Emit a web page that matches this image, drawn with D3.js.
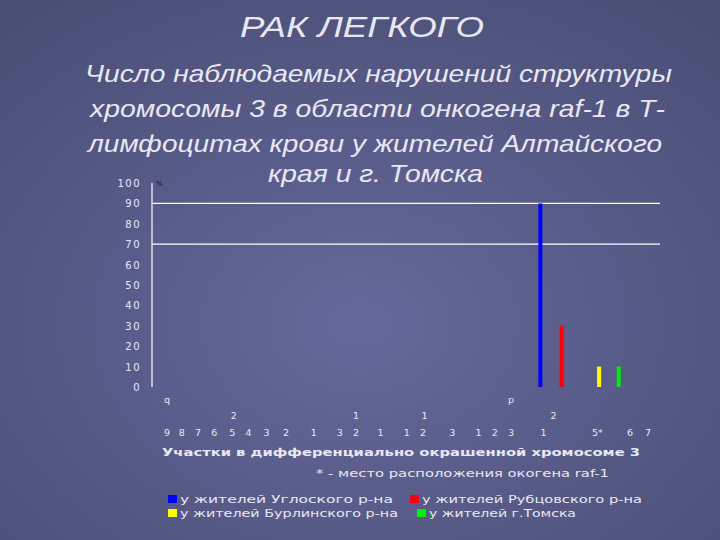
<!DOCTYPE html><html><head><meta charset="utf-8">
<script src="https://cdn.jsdelivr.net/npm/d3@7"></script>
<style>body{margin:0;background:#55597f}svg{display:block}</style></head><body>
<script>
const bottomLabels=["9","8","7","6","5","4","3","2","1","3","2","1","1","2","3","1","2","3","1","5*","6","7"];
const bottomPos=[0,0.9,1.9,2.9,4,5,6.1,7.3,9,10.6,11.6,13.1,14.7,15.7,17.5,19.1,20.1,21.1,23.1,26.4,28.4,29.5];
const midLabels=["2","1","1","2"];
const midPos=[4.1,11.6,15.8,23.7];
const armLabels=["q","p"];
const armPos=[0,21.1];
const series=["у жителей Углоcкого р-на","у жителей Рубцовского р-на","у жителей Бурлинского р-на","у жителей г.Томска"];
const values=[90,30,10,10];
const barPos=[22.9,24.2,26.5,27.7];
const colors=["#0000ff","#ff0000","#ffff00","#00ee00"];
const yTicks=[0,10,20,30,40,50,60,70,80,90,100];
const gridVals=[70,90];

const W=720,H=540;
const svg=d3.select("body").append("svg").attr("width",W).attr("height",H);
const defs=svg.append("defs");
const rg=defs.append("radialGradient").attr("id","bg").attr("cx","50%").attr("cy","60%").attr("r","75%");
rg.append("stop").attr("offset","0%").attr("stop-color","#66699a");
rg.append("stop").attr("offset","100%").attr("stop-color","#4a4d74");
svg.append("rect").attr("width",W).attr("height",H).attr("fill","url(#bg)");

const x=d3.scaleLinear().domain([0,29.5]).range([167,648]);
const y=d3.scaleLinear().domain([0,100]).range([387,183]);
const tc="#e8e8f4";
const T=(s,x0,yy,len,size,opts={})=>{const t=svg.append("text").attr("x",x0).attr("y",yy).attr("fill",tc)
 .attr("font-family",opts.ff||"Liberation Sans").attr("font-size",size).attr("textLength",len).attr("lengthAdjust","spacingAndGlyphs").text(s);
 if(opts.it)t.attr("font-style","italic"); if(opts.b)t.attr("font-weight","bold"); return t;};
T("РАК ЛЕГКОГО",240,37,244,30,{it:1});
T("Число наблюдаемых нарушений структуры",85,82,587,24,{it:1});
T("хромосомы 3 в области онкогена raf-1 в Т-",90,117,575,24,{it:1});
T("лимфоцитах крови у жителей Алтайского",88,152,574,24,{it:1});
T("края и г. Томска",268,182,215,24,{it:1});

const g=svg.append("g");
g.append("line").attr("x1",152).attr("x2",152).attr("y1",y(100)).attr("y2",y(0)).attr("stroke","#fff").attr("stroke-width",1.2);
g.selectAll(".gl").data(gridVals).join("line").attr("x1",152).attr("x2",660).attr("y1",d=>y(d)).attr("y2",d=>y(d)).attr("stroke","#fff").attr("stroke-width",1.2);
g.selectAll(".yt").data(yTicks).join("text").attr("x",141).attr("y",d=>y(d)+4).attr("text-anchor","end")
 .attr("fill",tc).attr("font-family","DejaVu Sans").attr("font-size",10).attr("letter-spacing",1.5).text(d=>d);
g.append("text").attr("x",156).attr("y",y(100)+3).attr("fill","#111").attr("font-size",7).attr("font-family","DejaVu Sans").text("%");
g.selectAll(".bar").data(values).join("rect").attr("x",(d,i)=>x(barPos[i])-2).attr("width",4)
 .attr("y",d=>y(d)).attr("height",d=>y(0)-y(d)).attr("fill",(d,i)=>colors[i]);

const lab=(labs,pos,yy)=>g.selectAll(null).data(labs).join("text").attr("x",(d,i)=>x(pos[i])).attr("y",yy)
 .attr("text-anchor","middle").attr("fill",tc).attr("font-family","DejaVu Sans").attr("font-size",9.5).text(d=>d);
lab(armLabels,armPos,403);lab(midLabels,midPos,419);lab(bottomLabels,bottomPos,436);
T("Участки в дифференциально окрашенной хромосоме 3",162,456,478,10.5,{ff:"DejaVu Sans",b:1});
T("* - место расположения окогена raf-1",316,477,293,10.5,{ff:"DejaVu Sans"});
const lp=[[168,503,213],[410,503,220],[168,517,218],[417,517,147]];
series.forEach((s,i)=>{
 svg.append("rect").attr("x",lp[i][0]).attr("y",lp[i][1]-8).attr("width",9).attr("height",8).attr("fill",colors[i]);
 T(s,lp[i][0]+12,lp[i][1],lp[i][2],10.5,{ff:"DejaVu Sans"});
});
</script></body></html>
